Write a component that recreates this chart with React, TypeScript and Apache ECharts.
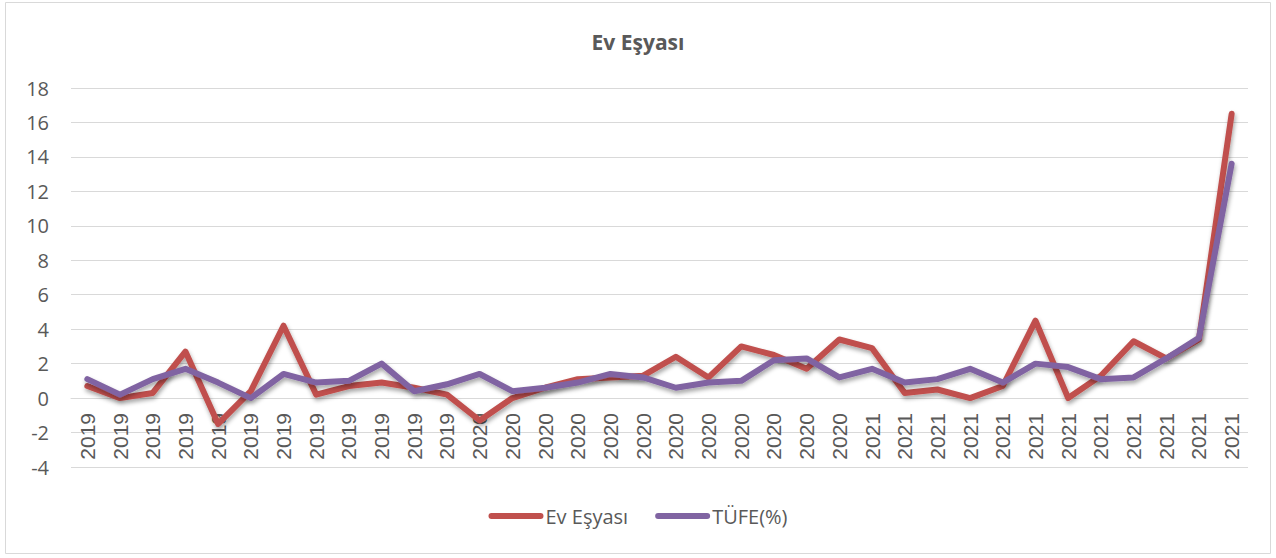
import React, { useEffect, useRef } from "react";
import * as echarts from "echarts";

const categories: string[] = [
  ...Array(12).fill("2019"),
  ...Array(12).fill("2020"),
  ...Array(12).fill("2021"),
];

const evEsyasi: number[] = [
  0.7, 0.0, 0.3, 2.7, -1.5, 0.4, 4.2, 0.2, 0.7, 0.9, 0.6, 0.2,
  -1.3, 0.0, 0.6, 1.1, 1.2, 1.3, 2.4, 1.2, 3.0, 2.5, 1.7, 3.4,
  2.9, 0.3, 0.5, 0.0, 0.7, 4.5, 0.0, 1.3, 3.3, 2.3, 3.4, 16.5,
];

const tufe: number[] = [
  1.1, 0.2, 1.1, 1.7, 0.9, 0.0, 1.4, 0.9, 1.0, 2.0, 0.4, 0.8,
  1.4, 0.4, 0.6, 0.9, 1.4, 1.2, 0.6, 0.9, 1.0, 2.2, 2.3, 1.2,
  1.7, 0.9, 1.1, 1.7, 0.9, 2.0, 1.8, 1.1, 1.2, 2.3, 3.5, 13.6,
];

const seriesNames = ["Ev Eşyası", "TÜFE(%)"];
const colors = ["#C0504D", "#8064A2"];

export default function App() {
  const ref = useRef<HTMLDivElement>(null);
  useEffect(() => {
    if (!ref.current) return;
    const chart = echarts.init(ref.current, null, { renderer: "svg" });
    const shadow = {
      shadowColor: "rgba(0,0,0,0.35)",
      shadowBlur: 4,
      shadowOffsetX: 1,
      shadowOffsetY: 3,
    };
    chart.setOption({
      animation: false,
      backgroundColor: "#ffffff",
      title: {
        text: "Ev Eşyası",
        left: "center",
        top: 26,
        textStyle: {
          fontFamily: "Open Sans",
          fontWeight: "bold",
          fontSize: 21,
          color: "#595959",
        },
      },
      graphic: [
        {
          type: "rect",
          shape: { x: 5.5, y: 2.5, width: 1265, height: 551 },
          style: { fill: "none", stroke: "#d9d9d9", lineWidth: 1 },
          silent: true,
        },
      ],
      legend: {
        top: 501,
        left: "center",
        itemWidth: 55,
        itemHeight: 6,
        itemGap: 27,
        icon: "path://M3,0 L52,0 A3,3 0 0 1 52,6 L3,6 A3,3 0 0 1 3,0 Z",
        textStyle: {
          fontFamily: "Open Sans",
          fontSize: 20,
          color: "#595959",
          padding: [0, 0, 0, -3],
        },
        data: seriesNames,
      },
      grid: { left: 71, right: 28, top: 88, bottom: 91, containLabel: false },
      xAxis: {
        type: "category",
        data: categories,
        boundaryGap: true,
        offset: -69,
        axisLine: { onZero: false, lineStyle: { color: "#d9d9d9", width: 1 } },
        axisTick: { show: false },
        axisLabel: {
          interval: 0,
          rotate: 90,
          margin: 15,
          fontFamily: "Liberation Sans",
          fontSize: 21,
          color: "#595959",
        },
        splitLine: { show: false },
      },
      yAxis: {
        type: "value",
        min: -4,
        max: 18,
        interval: 2,
        axisLine: { show: false },
        axisTick: { show: false },
        axisLabel: {
          margin: 22,
          fontFamily: "Open Sans",
          fontSize: 20,
          color: "#595959",
        },
        splitLine: { lineStyle: { color: "#d9d9d9", width: 1 } },
      },
      series: [
        {
          name: seriesNames[0],
          type: "line",
          data: evEsyasi,
          showSymbol: false,
          symbol: "none",
          color: colors[0],
          lineStyle: { width: 6, color: colors[0], cap: "round", join: "round", ...shadow },
          z: 2,
        },
        {
          name: seriesNames[1],
          type: "line",
          data: tufe,
          showSymbol: false,
          symbol: "none",
          color: colors[1],
          lineStyle: { width: 6, color: colors[1], cap: "round", join: "round", ...shadow },
          z: 3,
        },
      ],
    });
    return () => chart.dispose();
  }, []);
  return (
    <div
      ref={ref}
      style={{ position: "absolute", left: 0, top: 0, width: 1276, height: 558 }}
    />
  );
}
